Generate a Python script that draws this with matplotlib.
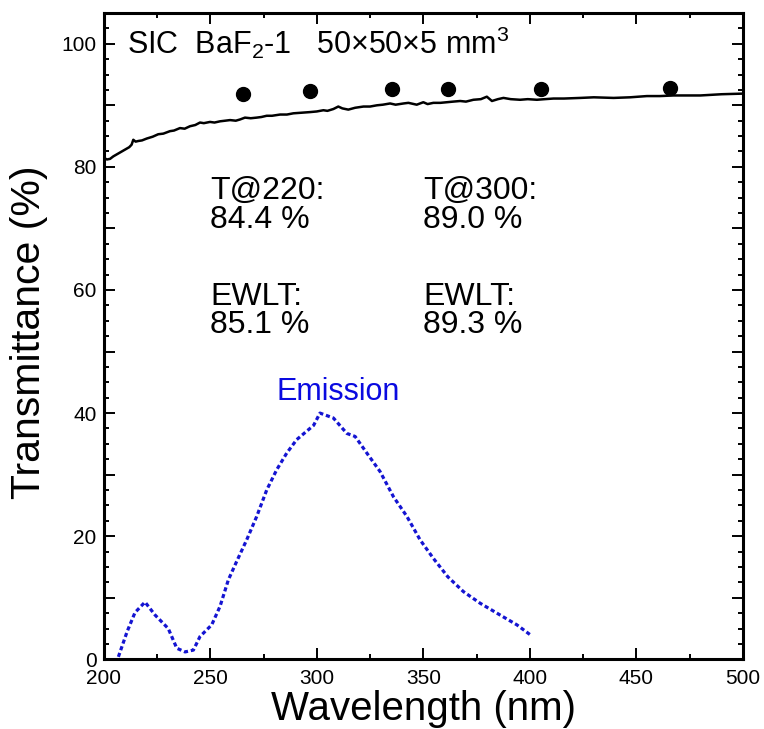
import matplotlib
matplotlib.use('Agg')
import matplotlib.pyplot as plt
from matplotlib.ticker import MultipleLocator, FuncFormatter

plt.rcParams['font.family'] = ['Liberation Sans', 'DejaVu Sans']
plt.rcParams['mathtext.fontset'] = 'custom'
plt.rcParams['mathtext.rm'] = 'Liberation Sans'
plt.rcParams['mathtext.it'] = 'Liberation Sans'

# measured transmittance (black trace)
trans_wl = [200, 201.5, 203, 204.5, 206, 208, 210, 212, 213.1, 213.9, 215, 216.2, 218, 220.2,
            223, 225.6, 228, 231.1, 233, 235.8, 238, 240.5, 243, 245.2, 247, 249.9, 252,
            254.6, 257, 259.3, 262, 264, 266.3, 269, 271.8, 274, 276.5, 279, 282.8, 286,
            289, 293, 296.9, 300, 303.1, 305, 307.8, 310.1, 312, 314.8, 318, 321.9, 325,
            328.2, 331, 334.4, 337, 340.7, 343, 346.9, 350, 352, 354.7, 358, 361, 364,
            367.3, 370, 373.5, 377, 379.8, 382.2, 385, 387.6, 391, 395.4, 399, 403.3, 407,
            411.1, 416, 423.7, 430, 439.3, 447, 454.9, 461, 467.4, 474, 480, 490, 500]
trans_val = [81.5, 81.2, 81.3, 81.7, 82.0, 82.4, 82.8, 83.2, 83.6, 84.4, 84.1, 84.2, 84.3, 84.6,
             84.9, 85.3, 85.4, 85.8, 85.9, 86.3, 86.2, 86.6, 86.8, 87.2, 87.1, 87.3, 87.2,
             87.4, 87.5, 87.6, 87.5, 87.7, 88.0, 87.9, 88.0, 88.1, 88.3, 88.3, 88.5, 88.5,
             88.7, 88.8, 88.9, 89.0, 89.2, 89.1, 89.4, 89.8, 89.5, 89.3, 89.6, 89.8, 89.8,
             90.0, 90.1, 90.3, 90.1, 90.3, 90.4, 90.1, 90.5, 90.2, 90.4, 90.4, 90.5, 90.6,
             90.7, 90.6, 90.9, 91.0, 91.4, 90.7, 91.0, 91.2, 91.0, 90.9, 91.0, 90.9, 91.0,
             91.1, 91.1, 91.2, 91.3, 91.2, 91.3, 91.5, 91.5, 91.6, 91.6, 91.6, 91.8, 91.9]

# theoretical transmittance points
theo_wl = [265.4, 296.9, 335.2, 361.5, 405.3, 465.9]
theo_val = [91.9, 92.3, 92.7, 92.7, 92.7, 92.8]

# emission spectrum (arbitrary units, blue dotted)
em_wl = [206.9, 211, 214.7, 219.4, 224.1, 230.3, 234.3, 238.2, 242.1, 245.2, 250.7, 254.6,
         258.5, 262.4, 267.1, 271.8, 276.5, 281.2, 285.9, 290.6, 296.1, 298.5, 301.5, 307.8,
         314.1, 318.0, 323.5, 329.7, 336.0, 342.3, 348.5, 354.7, 361.5, 368.8, 376.7, 386,
         393.9, 400.1]
em_val = [0.4, 4.5, 7.6, 9.3, 7.2, 5.0, 1.8, 1.2, 1.5, 3.7, 5.6, 8.6, 12.9, 15.9, 19.4, 23.2,
          27.5, 30.8, 33.5, 35.7, 37.3, 38.0, 40.0, 39.2, 36.7, 36.2, 33.5, 30.5, 26.4, 23.2,
          19.4, 16.4, 13.4, 11.0, 9.1, 7.2, 5.6, 4.0]

title = r'SIC  BaF$_2$-1   50$\times$50$\times$5 mm$^3$'
t_labels = ['T@220:', 'T@300:']
t_values = [84.4, 89.0]
ewlt_values = [85.1, 89.3]
col_x = [250, 350]

fig = plt.figure(figsize=(7.64, 7.29), dpi=100)
ax = fig.add_axes([0.1357, 0.0956, 0.8368, 0.8866])

ax.plot(trans_wl, trans_val, color='black', lw=1.8)
ax.plot(theo_wl, theo_val, 'o', color='black', ms=10)
ax.plot(em_wl, em_val, color='#1414d2', lw=2.3, linestyle=(0, (1.3, 0.9)))

ax.set_xlim(200, 500)
ax.set_ylim(0, 105)

ax.xaxis.set_major_locator(MultipleLocator(50))
ax.xaxis.set_minor_locator(MultipleLocator(25))
ax.yaxis.set_major_locator(MultipleLocator(10))
ax.yaxis.set_minor_locator(MultipleLocator(2.5))
ax.yaxis.set_major_formatter(FuncFormatter(lambda v, p: f'{v:.0f}' if v % 20 == 0 else ''))

ax.tick_params(which='both', direction='in', top=True, right=True, width=1.4,
               labelsize=15)
ax.tick_params(which='major', length=8)
ax.tick_params(which='minor', length=3.8)
ax.tick_params(axis='x', pad=7)
ax.tick_params(axis='y', pad=5)
for s in ax.spines.values():
    s.set_linewidth(2.2)

ax.set_xlabel('Wavelength (nm)', fontsize=29, va='baseline')
ax.xaxis.set_label_coords(0.5, -0.094)
ax.set_ylabel('Transmittance (%)', fontsize=29.5, va='center')
ax.yaxis.set_label_coords(-0.117, 0.506)

ax.text(210.8, 98.3, title, fontsize=22, va='baseline')
for x, lab, tv, ev in zip(col_x, t_labels, t_values, ewlt_values):
    ax.text(x, 74.8, lab, fontsize=23, va='baseline')
    ax.text(x, 70.1, f'{tv:.1f} %', fontsize=23, va='baseline')
    ax.text(x, 57.6, 'EWLT:', fontsize=23, va='baseline')
    ax.text(x, 53.0, f'{ev:.1f} %', fontsize=23, va='baseline')
ax.text(281, 42.2, 'Emission', fontsize=22, color='#0a0ae0', va='baseline')

fig.savefig('out.png', dpi=100)
